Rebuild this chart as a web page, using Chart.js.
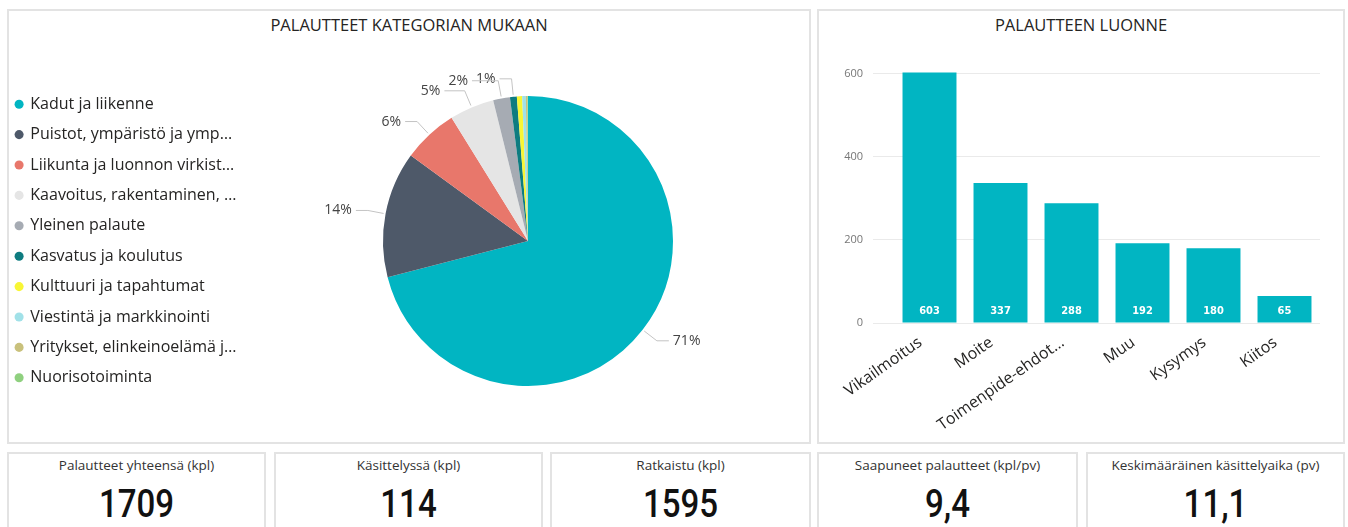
<!DOCTYPE html>
<html>
<head>
<meta charset="utf-8">
<script src="https://cdn.jsdelivr.net/npm/chart.js@4.4.1/dist/chart.umd.min.js"></script>
<style>
  body { margin: 0; width: 1348px; height: 527px; overflow: hidden; background: #fff; font-family: 'Open Sans', sans-serif; color: #252423; }
  .panel { position: absolute; border: 2px solid #e3e3e3; box-sizing: border-box; }
  .title { position: absolute; top: 15px; line-height: 20px; font-size: 16.5px; text-align: center; color: #252423; }
  canvas { position: absolute; top: 0; }
  .card .label { position: absolute; left: 0; right: 0; top: 3px; line-height: 16px; font-size: 13.5px; text-align: center; color: #333; }
  .card .value { position: absolute; left: 0; right: 0; top: 30px; line-height: 40px; font-size: 38px; font-weight: 500; text-align: center; color: #111;
    font-family: Roboto, sans-serif; transform: scaleX(0.87); }
</style>
</head>
<body>
<div class="panel" style="left:7px;top:9px;width:804px;height:435px"></div>
<div class="panel" style="left:817px;top:9px;width:528px;height:435px"></div>
<div class="title" style="left:7px;width:804px">PALAUTTEET KATEGORIAN MUKAAN</div>
<div class="title" style="left:817px;width:528px">PALAUTTEEN LUONNE</div>
<canvas id="categoryChart" width="860" height="444" style="left:0"></canvas>
<canvas id="typeChart" width="528" height="444" style="left:817px"></canvas>
<div id="cards"></div>
<script>
const FONT = "'Open Sans', sans-serif";

// Palautteet kategorian mukaan
const categories = [
    'Kadut ja liikenne',
    'Puistot, ympäristö ja ymp…',
    'Liikunta ja luonnon virkist…',
    'Kaavoitus, rakentaminen, …',
    'Yleinen palaute',
    'Kasvatus ja koulutus',
    'Kulttuuri ja tapahtumat',
    'Viestintä ja markkinointi',
    'Yritykset, elinkeinoelämä j…',
    'Nuorisotoiminta'
];
const categoryCounts = [1213, 240, 105, 85, 32, 13, 10, 7, 3, 1];
const categoryColors = ['#01B5C2', '#4E5969', '#E8776B', '#E5E5E5', '#A6ABB3',
    '#0E7C80', '#F8F635', '#A1E1E8', '#C9C17C', '#8FD07F'];

// Palautteen luonne
const feedbackTypes = ['Vikailmoitus', 'Moite', 'Toimenpide-ehdot…', 'Muu', 'Kysymys', 'Kiitos'];
const feedbackCounts = [603, 337, 288, 192, 180, 65];
const typeAxisMax = 650;
const typeAxisStep = 200;

// KPI cards
const kpiLabels = ['Palautteet yhteensä (kpl)', 'Käsittelyssä (kpl)', 'Ratkaistu (kpl)',
    'Saapuneet palautteet (kpl/pv)', 'Keskimääräinen käsittelyaika (pv)'];
const kpiValues = ['1709', '114', '1595', '9,4', '11,1'];

// legend sizing, used to keep the pie centred in its panel
const LEGEND_FONT = 16;
const LEGEND_PAD = 14.4;
const LEGEND_BOX = 6.4;
const PIE_CENTER_X = 528;
const PIE_CANVAS_W = 860;

function legendWidth() {
    const ctx = document.createElement('canvas').getContext('2d');
    ctx.font = LEGEND_FONT + 'px ' + FONT;
    const textW = Math.max(...categories.map(c => ctx.measureText(c).width));
    return LEGEND_PAD + LEGEND_BOX + LEGEND_FONT / 2 + textW + 10;
}

// percentage labels with leader lines
const pieLabels = {
    id: 'pieLabels',
    afterDatasetsDraw(chart) {
        const ctx = chart.ctx;
        const meta = chart.getDatasetMeta(0);
        const total = categoryCounts.reduce((a, b) => a + b, 0);
        ctx.save();
        ctx.font = '14px ' + FONT;
        ctx.textBaseline = 'middle';
        ctx.lineWidth = 1;
        let prev = null;
        for (let i = meta.data.length - 1; i >= 0; i--) {
            const pct = categoryCounts[i] / total * 100;
            if (pct < 0.7) continue;
            const arc = meta.data[i];
            const mid = (arc.startAngle + arc.endAngle) / 2;
            const cos = Math.cos(mid), sin = Math.sin(mid);
            const r = arc.outerRadius;
            const x0 = arc.x + cos * (r + 2), y0 = arc.y + sin * (r + 2);
            const x1 = arc.x + cos * (r + 18), y1 = arc.y + sin * (r + 18);
            const right = cos >= 0;
            const text = Math.round(pct) + '%';
            const w = ctx.measureText(text).width;
            let x2 = x1 + (right ? 12 : -12);
            if (!right && prev && Math.abs(y1 - prev.y) < 14 && x2 - 4 > prev.left - 4) {
                x2 = prev.left - 4;
            }
            ctx.strokeStyle = '#c4c4c4';
            ctx.beginPath();
            ctx.moveTo(x0, y0);
            ctx.lineTo(x1, y1);
            ctx.lineTo(x2, y1);
            ctx.stroke();
            ctx.fillStyle = '#444';
            ctx.textAlign = right ? 'left' : 'right';
            const tx = right ? x2 + 4 : x2 - 4;
            ctx.fillText(text, tx, y1);
            if (!right) prev = { left: tx - w, y: y1 };
        }
        ctx.restore();
    }
};

// value labels at the foot of each bar
const barValues = {
    id: 'barValues',
    afterDatasetsDraw(chart) {
        const ctx = chart.ctx;
        const meta = chart.getDatasetMeta(0);
        const base = chart.scales.y.getPixelForValue(0);
        ctx.save();
        ctx.fillStyle = '#fff';
        ctx.font = "bold 11px 'DejaVu Sans Condensed', sans-serif";
        ctx.textAlign = 'center';
        ctx.textBaseline = 'middle';
        meta.data.forEach((bar, i) => ctx.fillText(feedbackCounts[i], bar.x, base - 12));
        ctx.restore();
    }
};

function initCategoryChart() {
    const legendRight = 1.5 + legendWidth();
    const padRight = PIE_CANVAS_W - (2 * PIE_CENTER_X - legendRight);
    new Chart(document.getElementById('categoryChart'), {
        type: 'pie',
        data: {
            labels: categories,
            datasets: [{
                data: categoryCounts,
                backgroundColor: categoryColors,
                borderWidth: 0,
                radius: 145
            }]
        },
        options: {
            responsive: false,
            animation: false,
            layout: { padding: { left: 1.5, top: 76, bottom: 38, right: padRight } },
            plugins: {
                tooltip: { enabled: false },
                legend: {
                    position: 'left',
                    labels: {
                        usePointStyle: true,
                        pointStyle: 'circle',
                        boxWidth: LEGEND_BOX,
                        boxHeight: LEGEND_BOX,
                        padding: LEGEND_PAD,
                        color: '#252423',
                        font: { size: LEGEND_FONT, family: FONT }
                    }
                }
            }
        },
        plugins: [pieLabels]
    });
}

function initTypeChart() {
    new Chart(document.getElementById('typeChart'), {
        type: 'bar',
        data: {
            labels: feedbackTypes,
            datasets: [{
                data: feedbackCounts,
                backgroundColor: '#01B5C2',
                barPercentage: 0.76,
                categoryPercentage: 1
            }]
        },
        options: {
            responsive: false,
            animation: false,
            layout: { padding: { left: 0, top: 53, bottom: 0, right: 25 } },
            plugins: { legend: { display: false }, tooltip: { enabled: false } },
            scales: {
                x: {
                    grid: { display: false, drawTicks: false },
                    border: { display: false },
                    ticks: {
                        color: '#252423',
                        font: { size: 16, family: FONT },
                        minRotation: 35,
                        maxRotation: 35,
                        autoSkip: false,
                        labelOffset: -9,
                        padding: 10
                    },
                    afterFit(scale) { scale.height = 121; }
                },
                y: {
                    min: 0,
                    max: typeAxisMax,
                    border: { display: false },
                    grid: { color: '#eaeaea', tickColor: '#eaeaea', tickLength: 21 },
                    ticks: {
                        stepSize: typeAxisStep,
                        includeBounds: false,
                        color: '#777',
                        font: { size: 11, family: FONT },
                        padding: 10
                    },
                    afterFit(scale) { scale.width = 77; }
                }
            }
        },
        plugins: [barValues]
    });
}

function initCards() {
    const boxes = [[7, 259], [274, 269], [550, 261], [817, 261], [1086, 259]];
    const holder = document.getElementById('cards');
    kpiLabels.forEach((label, i) => {
        const card = document.createElement('div');
        card.className = 'panel card';
        card.style.cssText = `left:${boxes[i][0]}px;top:452px;width:${boxes[i][1]}px;height:90px`;
        card.innerHTML = `<div class="label">${label}</div><div class="value">${kpiValues[i]}</div>`;
        holder.appendChild(card);
    });
}

document.addEventListener('DOMContentLoaded', () => {
    initCategoryChart();
    initTypeChart();
    initCards();
});
</script>
</body>
</html>
